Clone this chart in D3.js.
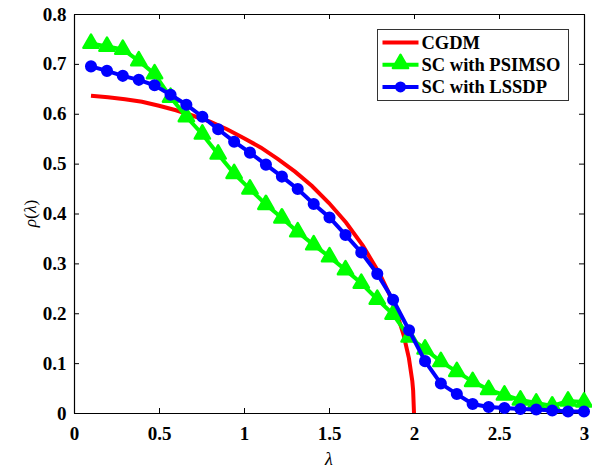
<!DOCTYPE html>
<html>
<head>
<meta charset="utf-8">
<script src="https://cdn.jsdelivr.net/npm/d3@7.9.0/dist/d3.min.js"></script>
<style>
  body { margin: 0; background: #fff; }
  text { font-family: "Liberation Serif", "Times New Roman", serif; }
</style>
</head>
<body>
<div id="chart"></div>
<script>
// lambda positions shared by the two marker series
const lambdas = [0.100, 0.194, 0.287, 0.381, 0.474, 0.568, 0.661, 0.755, 0.848, 0.942,
  1.035, 1.129, 1.223, 1.316, 1.410, 1.503, 1.597, 1.690, 1.784, 1.877,
  1.971, 2.065, 2.158, 2.252, 2.345, 2.439, 2.532, 2.626, 2.719, 2.813, 2.906, 3.000];

const psimso = [0.741, 0.735, 0.729, 0.706, 0.680, 0.633, 0.594, 0.559, 0.519, 0.480,
  0.449, 0.418, 0.391, 0.363, 0.337, 0.313, 0.287, 0.260, 0.228, 0.198,
  0.152, 0.128, 0.103, 0.083, 0.063, 0.047, 0.036, 0.026, 0.020, 0.014, 0.024, 0.022];

const lssdp = [0.695, 0.686, 0.676, 0.668, 0.657, 0.638, 0.618, 0.594, 0.569, 0.544,
  0.522, 0.498, 0.474, 0.449, 0.419, 0.392, 0.357, 0.322, 0.279, 0.227,
  0.166, 0.104, 0.059, 0.038, 0.018, 0.012, 0.010, 0.008, 0.007, 0.005, 0.003, 0.003];

// CGDM curve
const cgdmX = [0.1, 0.2, 0.3, 0.4, 0.5, 0.6, 0.7, 0.8, 0.9, 1.0, 1.1, 1.2, 1.3, 1.4, 1.5,
  1.6, 1.7, 1.8, 1.85, 1.9, 1.94, 1.97, 1.99, 1.995, 2.0];
const cgdmY = [0.636, 0.633, 0.629, 0.624, 0.616, 0.607, 0.596, 0.584, 0.569, 0.551, 0.532, 0.509, 0.484, 0.455, 0.421,
  0.382, 0.335, 0.278, 0.242, 0.199, 0.155, 0.110, 0.064, 0.045, 0.0];

const xTicks = [0, 0.5, 1, 1.5, 2, 2.5, 3];
const yTicks = [0, 0.1, 0.2, 0.3, 0.4, 0.5, 0.6, 0.7, 0.8];

const series = [
  { name: "CGDM", color: "#ff0000", marker: null },
  { name: "SC with PSIMSO", color: "#00ff00", marker: "triangle" },
  { name: "SC with LSSDP", color: "#0000ff", marker: "circle" }
];

// Setup dimensions
const W = 592, H = 472;
const margin = {top: 14, right: 8, bottom: 59, left: 74};
const width = W - margin.left - margin.right;
const height = H - margin.top - margin.bottom;

const svg = d3.select("#chart")
    .append("svg")
    .attr("width", W)
    .attr("height", H);

const g = svg.append("g")
    .attr("transform", `translate(${margin.left},${margin.top})`);

const x = d3.scaleLinear().domain([0, 3]).range([0, width]);
const y = d3.scaleLinear().domain([0, 0.8]).range([height, 0]);

// Axes (ticks point inward, mirrored on top and right)
const fmt = d => d3.format("")(d);
const bottomAxis = g.append("g")
    .attr("transform", `translate(0,${height})`)
    .call(d3.axisBottom(x).tickValues(xTicks).tickFormat(fmt).tickSizeInner(-5).tickSizeOuter(0).tickPadding(13.5));
const leftAxis = g.append("g")
    .call(d3.axisLeft(y).tickValues(yTicks).tickFormat(fmt).tickSizeInner(-5).tickSizeOuter(0).tickPadding(7.5));
g.append("g")
    .call(d3.axisTop(x).tickValues(xTicks).tickFormat("").tickSizeInner(-5).tickSizeOuter(0));
g.append("g")
    .attr("transform", `translate(${width},0)`)
    .call(d3.axisRight(y).tickValues(yTicks).tickFormat("").tickSizeInner(-5).tickSizeOuter(0));

g.selectAll(".domain").attr("stroke", "#000").attr("stroke-width", 1.2);
g.selectAll(".tick line").attr("stroke", "#000");
[bottomAxis, leftAxis].forEach(a => a.selectAll("text")
    .style("font-family", "'Liberation Serif', serif")
    .style("font-weight", "bold")
    .style("font-size", "19px")
    .attr("fill", "#000"));

// Axis labels
svg.append("text")
    .attr("x", margin.left + width / 2)
    .attr("y", 465)
    .attr("text-anchor", "middle")
    .style("font-style", "italic")
    .style("font-size", "18px")
    .text("λ");

svg.append("text")
    .attr("transform", `translate(36,${margin.top + height / 2}) rotate(-90)`)
    .attr("text-anchor", "middle")
    .style("font-size", "17.5px")
    .html('<tspan font-style="italic">ρ</tspan>(<tspan font-style="italic">λ</tspan>)');

// Lines
const line = d3.line().x(d => x(d[0])).y(d => y(d[1]));

const plot = g.append("g");

plot.append("path")
    .datum(cgdmX.map((v, i) => [v, cgdmY[i]]))
    .attr("fill", "none")
    .attr("stroke", series[0].color)
    .attr("stroke-width", 4)
    .attr("d", line);

const greenPts = lambdas.map((v, i) => [v, psimso[i]]);
plot.append("path")
    .datum(greenPts)
    .attr("fill", "none")
    .attr("stroke", series[1].color)
    .attr("stroke-width", 4)
    .attr("d", line);

const tri = d3.symbol().type(d3.symbolTriangle).size(100);
plot.selectAll(".tri")
    .data(greenPts)
    .join("path")
    .attr("class", "tri")
    .attr("transform", d => `translate(${x(d[0])},${y(d[1])})`)
    .attr("d", tri)
    .attr("fill", series[1].color)
    .attr("stroke", series[1].color)
    .attr("stroke-width", 2.5)
    .attr("stroke-linejoin", "round");

const bluePts = lambdas.map((v, i) => [v, lssdp[i]]);
plot.append("path")
    .datum(bluePts)
    .attr("fill", "none")
    .attr("stroke", series[2].color)
    .attr("stroke-width", 4)
    .attr("d", line);

plot.selectAll(".dot")
    .data(bluePts)
    .join("circle")
    .attr("class", "dot")
    .attr("cx", d => x(d[0]))
    .attr("cy", d => y(d[1]))
    .attr("r", 4.8)
    .attr("fill", series[2].color)
    .attr("stroke", series[2].color)
    .attr("stroke-width", 2.5);

// Legend
const legend = svg.append("g").attr("transform", "translate(377.5,29.5)");
legend.append("rect")
    .attr("width", 191)
    .attr("height", 71)
    .attr("fill", "#fff")
    .attr("stroke", "#333")
    .attr("stroke-width", 1);

series.forEach((s, i) => {
  const cy = 13 + i * 22.2;
  const row = legend.append("g").attr("transform", `translate(0,${cy})`);
  row.append("line")
      .attr("x1", 5).attr("x2", 41)
      .attr("y1", 0).attr("y2", 0)
      .attr("stroke", s.color)
      .attr("stroke-width", 4);
  if (s.marker === "triangle") {
    row.append("path")
        .attr("transform", "translate(23,-1)")
        .attr("d", tri)
        .attr("fill", s.color)
        .attr("stroke", s.color)
        .attr("stroke-width", 2.5)
        .attr("stroke-linejoin", "round");
  } else if (s.marker === "circle") {
    row.append("circle")
        .attr("cx", 23).attr("cy", 0).attr("r", 5.5)
        .attr("fill", s.color);
  }
  row.append("text")
      .attr("x", 44)
      .attr("y", 6.5)
      .style("font-weight", "bold")
      .style("font-size", "18.5px")
      .text(s.name);
});
</script>
</body>
</html>
